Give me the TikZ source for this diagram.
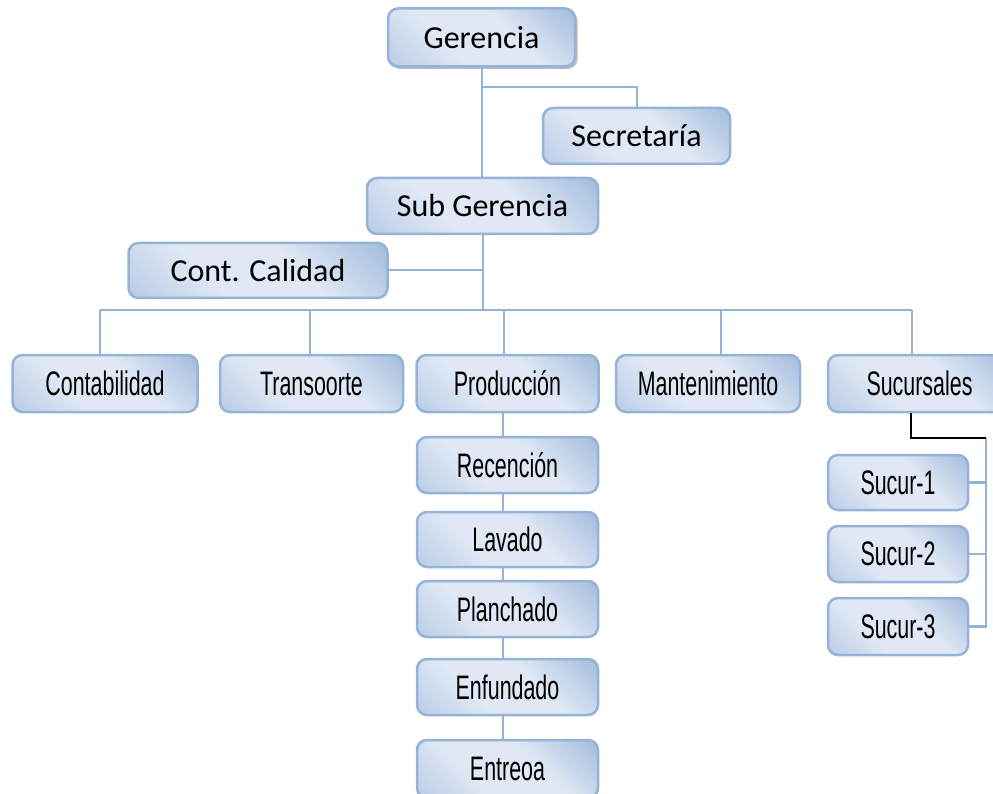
\documentclass[tikz,border=0pt]{standalone}
\usepackage{fontspec}
\setmainfont{Carlito}
\newfontfamily\narrowfont[FakeStretch=0.63]{Liberation Sans}
\usetikzlibrary{shadows}
\definecolor{boxline}{RGB}{149,179,215}
\definecolor{boxdark}{RGB}{163,188,221}
\definecolor{boxmid}{RGB}{185,204,230}
\definecolor{boxlight}{RGB}{223,232,244}
\pgfdeclareverticalshading{orgshade}{100bp}{color(0bp)=(boxmid); color(15bp)=(boxmid); color(37bp)=(boxlight); color(60bp)=(boxlight); color(85bp)=(boxdark); color(100bp)=(boxdark)}
\tikzset{
  x=1pt, y=-1pt,
  orgbox/.style={draw=boxline, line width=2.5pt, rounded corners=10pt,
    shading=orgshade, shading angle=-45,
    inner sep=0pt, anchor=center},
  topbox/.style={orgbox, font=\fontsize{32}{34}\selectfont},
  lowbox/.style={orgbox, font=\narrowfont\fontsize{34}{36}\selectfont},
  link/.style={draw=boxline, line width=2.5pt},
  blacklink/.style={draw=black, line width=2pt}
}
\begin{document}
\begin{tikzpicture}
\useasboundingbox (0,0) rectangle (993,794);
\clip (0,0) rectangle (993,794);
% top boxes
\node[topbox, minimum width=187pt, minimum height=58pt,
  drop shadow={shadow xshift=2.5pt, shadow yshift=-2.5pt, opacity=0.6, fill=gray!70!boxline}] (ger) at (481.5,37.5) {Gerencia};
\node[topbox, minimum width=187pt, minimum height=56pt] (sec) at (636.5,136) {Secretaría};
\node[topbox, minimum width=231pt, minimum height=56pt] (sub) at (482.5,206) {Sub Gerencia};
\node[topbox, minimum width=259pt, minimum height=55pt] (cal) at (258,270.5) {Cont. Calidad};
% row
\node[lowbox, minimum width=185pt, minimum height=57pt] (con) at (105,383.5) {Contabilidad};
\node[lowbox, minimum width=183pt, minimum height=57pt] (tra) at (311.5,383.5) {Transoorte};
\node[lowbox, minimum width=182pt, minimum height=57pt] (pro) at (507.5,383.5) {Producción};
\node[lowbox, minimum width=184pt, minimum height=57pt] (man) at (708,383.5) {Mantenimiento};
\node[lowbox, minimum width=183pt, minimum height=57pt] (suc) at (919.5,383.5) {Sucursales};
% production chain
\node[lowbox, minimum width=181pt, minimum height=56pt] (rec) at (507.5,465) {Recención};
\node[lowbox, minimum width=181pt, minimum height=55pt] (lav) at (507.5,539.5) {Lavado};
\node[lowbox, minimum width=181pt, minimum height=56pt] (pla) at (507.5,609) {Planchado};
\node[lowbox, minimum width=181pt, minimum height=56pt] (enf) at (507.5,687) {Enfundado};
\node[lowbox, minimum width=181pt, minimum height=58pt] (ent) at (507.5,769) {Entreoa};
% sucursales
\node[lowbox, minimum width=140pt, minimum height=55pt] (s1) at (898,482.5) {Sucur-1};
\node[lowbox, minimum width=140pt, minimum height=56pt] (s2) at (898,554) {Sucur-2};
\node[lowbox, minimum width=140pt, minimum height=57pt] (s3) at (898,626.5) {Sucur-3};
% coordinates
\coordinate (gsplit) at (482,87);
\coordinate (secc) at (637,87);
\coordinate (calj) at (483,270);
\coordinate (busc) at (483,310);
\coordinate (busl) at (100,310);
\coordinate (busr) at (912,310);
\coordinate (sucA) at (911,438);
\coordinate (sucB) at (986,438);
% connectors
\path[link] (ger.south -| gsplit) -- (sub.north -| gsplit);
\path[link] (gsplit) -- (secc) -- (sec.north -| secc);
\path[link] (sub.south -| busc) -- (busc);
\path[link] (cal.east |- calj) -- (calj);
\path[link] (busl) -- (busr);
\path[link] (busl) -- (con.north -| busl);
\path[link] (310,310) -- (tra.north -| 310,0);
\path[link] (504,310) -- (pro.north -| 504,0);
\path[link] (721,310) -- (man.north -| 721,0);
\path[link] (busr) -- (suc.north -| busr);
\path[link] (pro.south -| 503,0) -- (rec.north -| 503,0);
\path[link] (rec.south -| 503,0) -- (lav.north -| 503,0);
\path[link] (lav.south -| 503,0) -- (pla.north -| 503,0);
\path[link] (pla.south -| 503,0) -- (enf.north -| 503,0);
\path[link] (enf.south -| 503,0) -- (ent.north -| 503,0);
\path[link] (sucB) -- (sucB |- s3.east) -- (s3.east);
\path[link] (s1.east) -- (s1.east -| sucB);
\path[link] (s2.east) -- (s2.east -| sucB);
\path[blacklink] (suc.south -| sucA) -- (sucA) -- (sucB);
\end{tikzpicture}
\end{document}
